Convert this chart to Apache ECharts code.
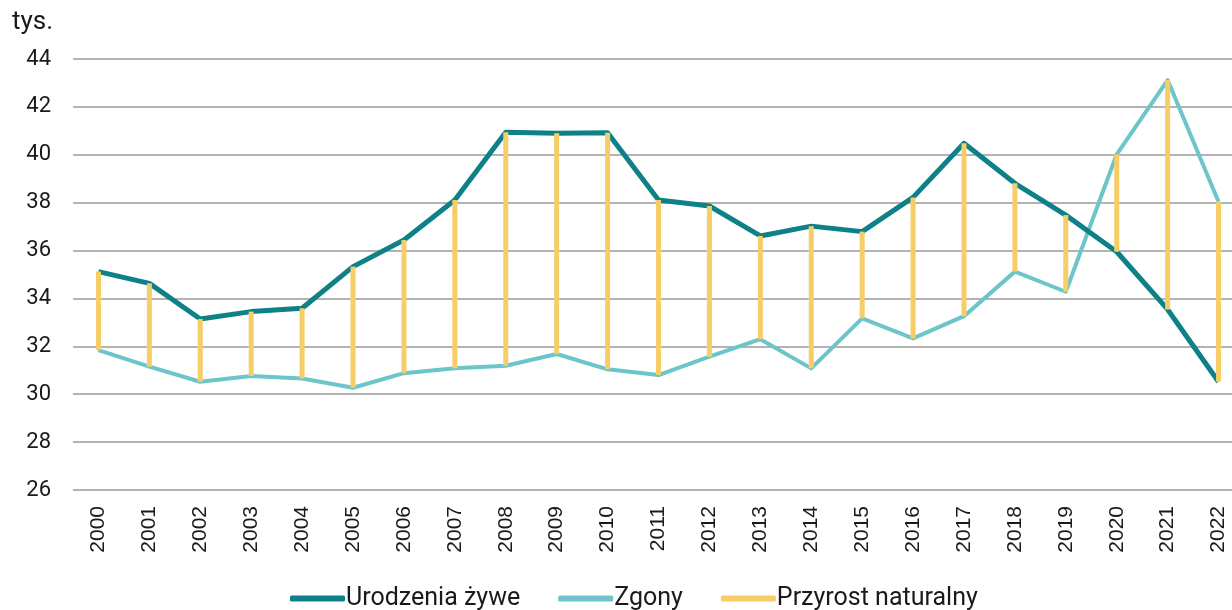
<!DOCTYPE html>
<html>
<head>
<meta charset="utf-8">
<script src="https://cdn.jsdelivr.net/npm/echarts@6/dist/echarts.min.js"></script>
<style>
  html, body { margin: 0; padding: 0; background: #fff; }
  #chart { width: 1232px; height: 610px; }
</style>
</head>
<body>
<div id="chart"></div>
<script>
const years = ['2000', '2001', '2002', '2003', '2004', '2005', '2006', '2007', '2008', '2009', '2010', '2011',
  '2012', '2013', '2014', '2015', '2016', '2017', '2018', '2019', '2020', '2021', '2022']
// tys. – urodzenia żywe
const births = [35.12, 34.63, 33.14, 33.45, 33.59, 35.33, 36.44, 38.11, 40.94, 40.90, 40.92, 38.11,
  37.86, 36.61, 37.02, 36.79, 38.22, 40.48, 38.81, 37.48, 35.95, 33.54, 30.52]
// tys. – zgony
const deaths = [31.84, 31.15, 30.52, 30.76, 30.66, 30.27, 30.88, 31.08, 31.19, 31.68, 31.04, 30.80,
  31.57, 32.30, 31.08, 33.17, 32.33, 33.26, 35.12, 34.28, 40.02, 43.12, 38.04]

const chart = echarts.init(document.getElementById('chart'))

const fontMain = 'Roboto, "Noto Sans", sans-serif'

chart.setOption({
  animation: false,
  textStyle: { fontFamily: fontMain },
  grid: {
    left: 73,
    top: 59,
    bottom: 120,
    width: 1171,
    outerBoundsMode: 'none'
  },
  graphic: [{
    type: 'text',
    left: 12,
    top: 9,
    style: { text: 'tys.', fontSize: 26, fontFamily: fontMain, fill: '#1a1a1a' }
  }],
  legend: {
    left: 285,
    top: 581,
    itemWidth: 55,
    itemHeight: 6,
    itemGap: 38,
    icon: 'roundRect',
    textStyle: { fontSize: 25, color: '#1a1a1a', padding: [0, 0, 0, -4] },
    data: ['Urodzenia żywe', 'Zgony', 'Przyrost naturalny']
  },
  xAxis: {
    type: 'category',
    data: years,
    boundaryGap: true,
    axisLine: { show: false },
    axisTick: { show: false },
    axisLabel: {
      rotate: 90,
      margin: 16,
      fontSize: 21,
      fontFamily: '"Liberation Sans", Arial, sans-serif',
      color: '#1a1a1a'
    }
  },
  yAxis: {
    type: 'value',
    min: 26,
    max: 44,
    interval: 2,
    axisLine: { show: false },
    axisTick: { show: false },
    axisLabel: { fontSize: 22, margin: 22, color: '#1a1a1a' },
    splitLine: { lineStyle: { color: '#b3b3b3', width: 2 } }
  },
  series: [
    {
      name: 'Urodzenia żywe',
      type: 'line',
      data: births,
      showSymbol: false,
      symbol: 'none',
      color: '#0e8088',
      lineStyle: { width: 5, color: '#0e8088', join: 'round' },
      z: 3
    },
    {
      name: 'Zgony',
      type: 'line',
      data: deaths,
      showSymbol: false,
      symbol: 'none',
      color: '#6cc5cb',
      lineStyle: { width: 4, color: '#6cc5cb', join: 'round' },
      z: 2
    },
    {
      name: 'Przyrost naturalny',
      type: 'custom',
      color: '#f6cd66',
      itemStyle: { color: '#f6cd66' },
      encode: { x: 0, y: [1, 2] },
      data: years.map((y, i) => [i, births[i], deaths[i]]),
      renderItem: function (params, api) {
        const a = api.coord([api.value(0), api.value(1)])
        const b = api.coord([api.value(0), api.value(2)])
        const top = Math.min(a[1], b[1])
        const h = Math.abs(a[1] - b[1])
        return {
          type: 'rect',
          shape: { x: a[0] - 2.5, y: top, width: 5, height: h },
          style: { fill: '#f6cd66' }
        }
      },
      z: 5
    }
  ]
})
</script>
</body>
</html>
